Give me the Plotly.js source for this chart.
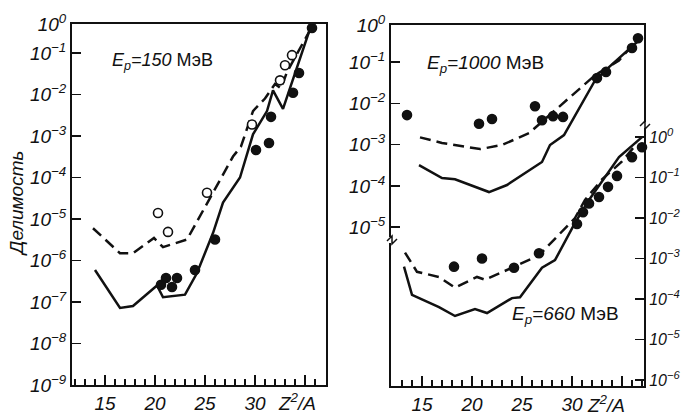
<!DOCTYPE html>
<html><head><meta charset="utf-8">
<script src="https://cdn.plot.ly/plotly-3.0.1.min.js"></script>
<style>body{margin:0;background:#fff}#g{width:684px;height:419px}</style>
</head><body><div id="g"></div>
<script>
// ---- E_p = 150 MeV (left panel) ----
const z150Dash = [13.8,16.5,17.8,19.9,20.8,23.2,25.5,27.8,28.6,29.8,31.0,32.0,32.6,33.2,35.8];
const f150Dash = [6.0e-6,1.5e-6,1.5e-6,3.5e-6,2.1e-6,3.2e-6,3.2e-5,3.2e-4,5.6e-4,4.0e-3,8.0e-3,1.8e-2,1.4e-2,3.5e-2,0.48];
const z150Solid = [14.0,16.5,17.8,20.2,20.8,23.0,24.2,25.8,26.8,28.5,29.8,31.2,31.8,32.8,35.6];
const f150Solid = [5.9e-7,7.2e-8,8.0e-8,2.5e-7,1.3e-7,1.5e-7,5.0e-7,4.6e-6,2.5e-5,1.0e-4,1.1e-3,4.0e-3,1.26e-2,4.5e-3,0.45];
const z150Open = [20.3,21.3,25.2,29.7,32.5,33.0,33.7];
const f150Open = [1.4e-5,4.9e-6,4.3e-5,1.9e-3,2.2e-2,5.1e-2,8.9e-2];
const z150Full = [20.6,21.1,21.7,22.2,24.0,26.0,30.1,31.4,31.6,33.8,34.4,35.7];
const f150Full = [2.6e-7,3.8e-7,2.3e-7,3.8e-7,5.9e-7,3.2e-6,4.6e-4,6.8e-4,2.9e-3,1.1e-2,3.3e-2,0.4];
// ---- E_p = 1000 MeV (right panel, upper, left axis) ----
const z1000Dash = [14.8,17.0,20.8,23.0,25.7,28.0,30.3,32.3,34.7,36.7];
const f1000Dash = [1.5e-3,1.1e-3,7.8e-4,9.8e-4,1.9e-3,5.8e-3,1.8e-2,4.8e-2,0.11,0.38];
const z1000Solid = [14.7,17.0,18.3,21.7,23.5,27.0,27.8,29.2,32.3,33.7,36.7];
const f1000Solid = [3.2e-4,1.55e-4,1.45e-4,7.1e-5,1.05e-4,3.8e-4,9.8e-4,1.7e-3,3.6e-2,7.6e-2,0.34];
const z1000Full = [13.5,20.7,22.0,26.3,27.0,28.1,29.1,32.5,33.4,36.0,36.6];
const f1000Full = [5.2e-3,3.2e-3,4.2e-3,8.5e-3,3.9e-3,4.9e-3,4.7e-3,4.1e-2,5.8e-2,0.22,0.38];
// ---- E_p = 660 MeV (right panel, lower, right axis) ----
const z660Dash = [13.3,14.5,16.7,18.3,20.5,21.3,24.0,26.7,30.3,31.3,33.0,35.0,36.5];
const f660Dash = [1.4e-3,4.7e-4,3.5e-4,1.9e-4,3.5e-4,3.0e-4,5.9e-4,1.2e-3,1.0e-2,2.8e-2,9.0e-2,0.25,0.7];
const z660Solid = [13.2,14.0,16.7,18.3,20.3,21.5,24.0,24.8,27.0,28.3,30.3,31.7,34.7,37.0];
const f660Solid = [6.3e-4,1.26e-4,6.3e-5,3.8e-5,5.6e-5,4.5e-5,1.05e-4,1.1e-4,5.9e-4,9.1e-4,7.6e-3,2.8e-2,0.32,1.0];
const z660Full = [18.2,21.0,24.2,26.7,30.5,31.1,31.7,32.7,33.6,34.5,36.0,37.0];
const f660Full = [6.3e-4,1.0e-3,5.9e-4,1.35e-3,7.1e-3,1.4e-2,2.3e-2,3.3e-2,5.9e-2,0.11,0.32,0.56];
// ---- tick labels ----
const xTicks = [15,20,25,30,35];
const xTickText = ['15','20','25','30',''];
const sup = n => '10<sup>' + (n < 0 ? '\u2212' + (-n) : n) + '</sup>';

const FONT = 'Liberation Sans, Arial, sans-serif';
const W = 684, H = 419;
const px = v => v / W, py = v => 1 - v / H;

const line = (x, y, xa, ya, dash) => ({x, y, xaxis: xa, yaxis: ya, type: 'scatter', mode: 'lines',
  line: {color: '#111', width: 2.5, dash: dash ? '11px,6px' : 'solid'}, hoverinfo: 'skip', cliponaxis: false});
const pts = (x, y, xa, ya, open) => ({x, y, xaxis: xa, yaxis: ya, type: 'scatter', mode: 'markers',
  marker: {size: 9, color: open ? '#fff' : '#111', line: {color: '#111', width: 1.6}}, cliponaxis: false});

const data = [
  line(z150Dash, f150Dash, 'x', 'y', true),
  line(z150Solid, f150Solid, 'x', 'y', false),
  pts(z150Open, f150Open, 'x', 'y', true),
  pts(z150Full, f150Full, 'x', 'y', false),
  line(z1000Dash, f1000Dash, 'x2', 'y3', true),
  line(z1000Solid, f1000Solid, 'x2', 'y3', false),
  pts(z1000Full, f1000Full, 'x2', 'y3', false),
  line(z660Dash, f660Dash, 'x2', 'y4', true),
  line(z660Solid, f660Solid, 'x2', 'y4', false),
  pts(z660Full, f660Full, 'x2', 'y4', false)
];

const tf = {family: FONT, size: 19, color: '#111', style: 'italic'};
const tfR = {family: FONT, size: 16, color: '#111', style: 'italic'};
const xBase = {type: 'linear', tickmode: 'array', tickvals: xTicks, ticktext: xTickText,
  ticks: 'inside', ticklen: 10, tickwidth: 1.5, tickcolor: '#111', showgrid: false, zeroline: false,
  showline: true, linecolor: '#111', linewidth: 2, mirror: true, tickfont: tf,
  minor: {tickmode: 'linear', tick0: 0, dtick: 1, ticks: 'inside', ticklen: 6, tickwidth: 1.3, tickcolor: '#111', showgrid: false}};
const yBase = {type: 'log', ticks: 'inside', ticklen: 9, tickwidth: 1.5, tickcolor: '#111', showgrid: false,
  zeroline: false, tickfont: tf, tickmode: 'array'};

const leftTop = -0.30, r3Top = -0.10;
const layout = {
  width: W, height: H, margin: {l: 0, r: 0, t: 0, b: 0}, showlegend: false,
  paper_bgcolor: '#fff', plot_bgcolor: '#fff', font: {family: FONT, color: '#111'},
  xaxis: Object.assign({}, xBase, {domain: [px(72), px(326)], range: [11.7, 37.1], anchor: 'y'}),
  yaxis: Object.assign({}, yBase, {domain: [py(385), py(24)], range: [-9, leftTop], anchor: 'x',
    showline: true, linecolor: '#111', linewidth: 2, mirror: true,
    tickvals: [1e-9,1e-8,1e-7,1e-6,1e-5,1e-4,1e-3,1e-2,1e-1,Math.pow(10,leftTop)],
    ticktext: [-9,-8,-7,-6,-5,-4,-3,-2,-1,0].map(sup)}),
  xaxis2: Object.assign({}, xBase, {domain: [px(391), px(644)], range: [11.9, 37.2], anchor: 'y3'}),
  yaxis3: Object.assign({}, yBase, {domain: [py(386), py(25)], range: [-8.85, r3Top], anchor: 'x2', side: 'left',
    showline: true, linecolor: '#111', linewidth: 2,
    tickvals: [1e-5,1e-4,1e-3,1e-2,1e-1,Math.pow(10,r3Top)],
    ticktext: [-5,-4,-3,-2,-1,0].map(sup)}),
  yaxis4: Object.assign({}, yBase, {overlaying: 'y3', range: [-6.15, 2.77], anchor: 'x2', side: 'right',
    showline: true, linecolor: '#111', linewidth: 2, tickfont: tfR,
    tickvals: [1e-6,1e-5,1e-4,1e-3,1e-2,1e-1,1], ticktext: [-6,-5,-4,-3,-2,-1,0].map(sup)}),
  yaxis5: Object.assign({}, yBase, {overlaying: 'y3', range: [-6.15, 2.77], anchor: 'x2', side: 'left',
    showline: false, tickvals: [1e-5,1e-4,1e-3], showticklabels: false}),
  yaxis6: Object.assign({}, yBase, {overlaying: 'y3', range: [-8.85, r3Top], anchor: 'x2', side: 'right',
    showline: false, tickvals: [10**-1.22,10**-2.22], showticklabels: false}),
  annotations: [
    {xref: 'paper', yref: 'paper', x: px(110), y: py(62), xanchor: 'left', yanchor: 'middle', showarrow: false,
     text: '<i>E<sub>p</sub>=150</i> МэВ', font: {family: FONT, size: 18, color: '#111'}},
    {xref: 'paper', yref: 'paper', x: px(425), y: py(64), xanchor: 'left', yanchor: 'middle', showarrow: false,
     text: '<i>E<sub>p</sub>=1000</i> МэВ', font: {family: FONT, size: 19, color: '#111'}},
    {xref: 'paper', yref: 'paper', x: px(510), y: py(315), xanchor: 'left', yanchor: 'middle', showarrow: false,
     text: '<i>E<sub>p</sub>=660</i> МэВ', font: {family: FONT, size: 19, color: '#111'}},
    {xref: 'paper', yref: 'paper', x: px(17), y: py(203), xanchor: 'center', yanchor: 'middle', showarrow: false,
     textangle: -90, text: '<i>Делимость</i>', font: {family: FONT, size: 19, color: '#111'}},
    {xref: 'paper', yref: 'paper', x: px(297), y: py(402), xanchor: 'center', yanchor: 'middle', showarrow: false,
     text: '<i>Z<sup>2</sup>/A</i>', font: {family: FONT, size: 19, color: '#111'}},
    {xref: 'paper', yref: 'paper', x: px(606), y: py(404), xanchor: 'center', yanchor: 'middle', showarrow: false,
     text: '<i>Z<sup>2</sup>/A</i>', font: {family: FONT, size: 19, color: '#111'}}
  ],
  shapes: [
    {type: 'rect', xref: 'paper', yref: 'paper', x0: px(389), x1: px(395), y0: py(243), y1: py(237), fillcolor: '#fff', line: {width: 0}},
    {type: 'path', xref: 'paper', yref: 'paper', line: {color: '#111', width: 1.5},
     path: `M ${px(387)} ${py(241)} L ${px(392)} ${py(236)} L ${px(392)} ${py(244)} L ${px(397)} ${py(239)}`},
    {type: 'rect', xref: 'paper', yref: 'paper', x0: px(642), x1: px(648), y0: py(128), y1: py(122), fillcolor: '#fff', line: {width: 0}},
    {type: 'path', xref: 'paper', yref: 'paper', line: {color: '#111', width: 1.5},
     path: `M ${px(640)} ${py(126)} L ${px(645)} ${py(121)} L ${px(645)} ${py(129)} L ${px(650)} ${py(124)}`}
  ]
};
Plotly.newPlot('g', data, layout, {staticPlot: true});
</script></body></html>
